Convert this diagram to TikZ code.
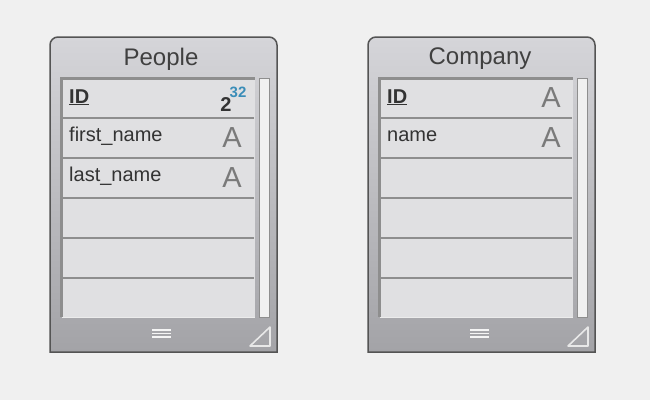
\documentclass[tikz,border=0pt]{standalone}
\usepackage{fontspec}
\setmainfont{Liberation Sans}
\usepackage{tikz}

\definecolor{pagebg}{HTML}{F0F0F0}
\definecolor{boxtop}{HTML}{D5D5D9}
\definecolor{boxbot}{HTML}{A3A3A7}
\definecolor{boxline}{HTML}{545454}
\definecolor{rowfill}{HTML}{E0E0E2}
\definecolor{rowline}{HTML}{8E8E8E}
\definecolor{typegray}{HTML}{7A7A7A}
\definecolor{bitblue}{HTML}{3A8DB8}

\tikzset{
  tabframe/.style={draw=boxline, line width=1.5pt, top color=boxtop, bottom color=boxbot},
  rowsep/.style={draw=rowline, line width=2.5pt},
  tabtitle/.style={anchor=base, inner sep=0pt, text=black!75, font=\fontsize{24}{24}\selectfont},
  field/.style={anchor=base west, inner sep=0pt, text=black!80, font=\fontsize{20}{20}\selectfont},
  keyfield/.style={field, font=\fontsize{20}{20}\selectfont\bfseries},
  atype/.style={inner sep=0pt, text=typegray, font=\fontsize{29}{29}\selectfont},
}

\begin{document}
\begin{tikzpicture}[x=1pt, y=-1pt, inner sep=1mm, >=stealth]
\fill[pagebg] (0,0) rectangle (650,400);

% the two table frames
\foreach \dx in {0,318} {
  \begin{scope}[xshift=\dx pt]
  \shade[tabframe] (50,352) -- (50,45) arc (180:270:8) -- (269,37) arc (270:360:8) -- (277,352) -- cycle;
  \fill[rowfill] (61,78) rectangle (255,317);
  \draw[rowline, line width=3pt] (61.5,317) -- (61.5,78) -- (255,78);
  \foreach \y in {118,158,198,238,278}
    \draw[rowsep] (62,\y) -- (254,\y);
  \draw[white!85!gray, line width=1pt] (62,317) -- (255,317);
  \filldraw[fill=white!88!gray, draw=rowline, line width=1pt] (259.5,78.5) rectangle (269,317);
  \foreach \y in {330,333.5,337}
    \draw[white!92!gray, line width=1.3pt] (152,\y) -- (171,\y);
  \draw[white!82!gray, line width=1.6pt, line join=round] (270,327) -- (270,346) -- (250,346) -- cycle;
  \end{scope}
}

% People
\node (ptitle) at (161,65) [tabtitle] {People};
\node (pid) at (69,103) [keyfield] {\underline{ID}};
\node (ptwo) at (226,104.5) [inner sep=0pt, text=black!80, font=\fontsize{20}{20}\selectfont\bfseries] {2};
\node (pbits) at (238,92) [inner sep=0pt, text=bitblue, font=\fontsize{15}{15}\selectfont\bfseries] {32};
\node (pfirst) at (69,141) [field] {first\_name};
\node (pfirsta) at (232,138) [atype] {A};
\node (plast) at (69,181) [field] {last\_name};
\node (plasta) at (232,178) [atype] {A};

% Company
\node (ctitle) at (480,64.5) [tabtitle] {Company};
\node (cid) at (387,103) [keyfield] {\underline{ID}};
\node (cida) at (551,98) [atype] {A};
\node (cname) at (387,141) [field] {name};
\node (cnamea) at (551,138) [atype] {A};
\end{tikzpicture}
\end{document}
